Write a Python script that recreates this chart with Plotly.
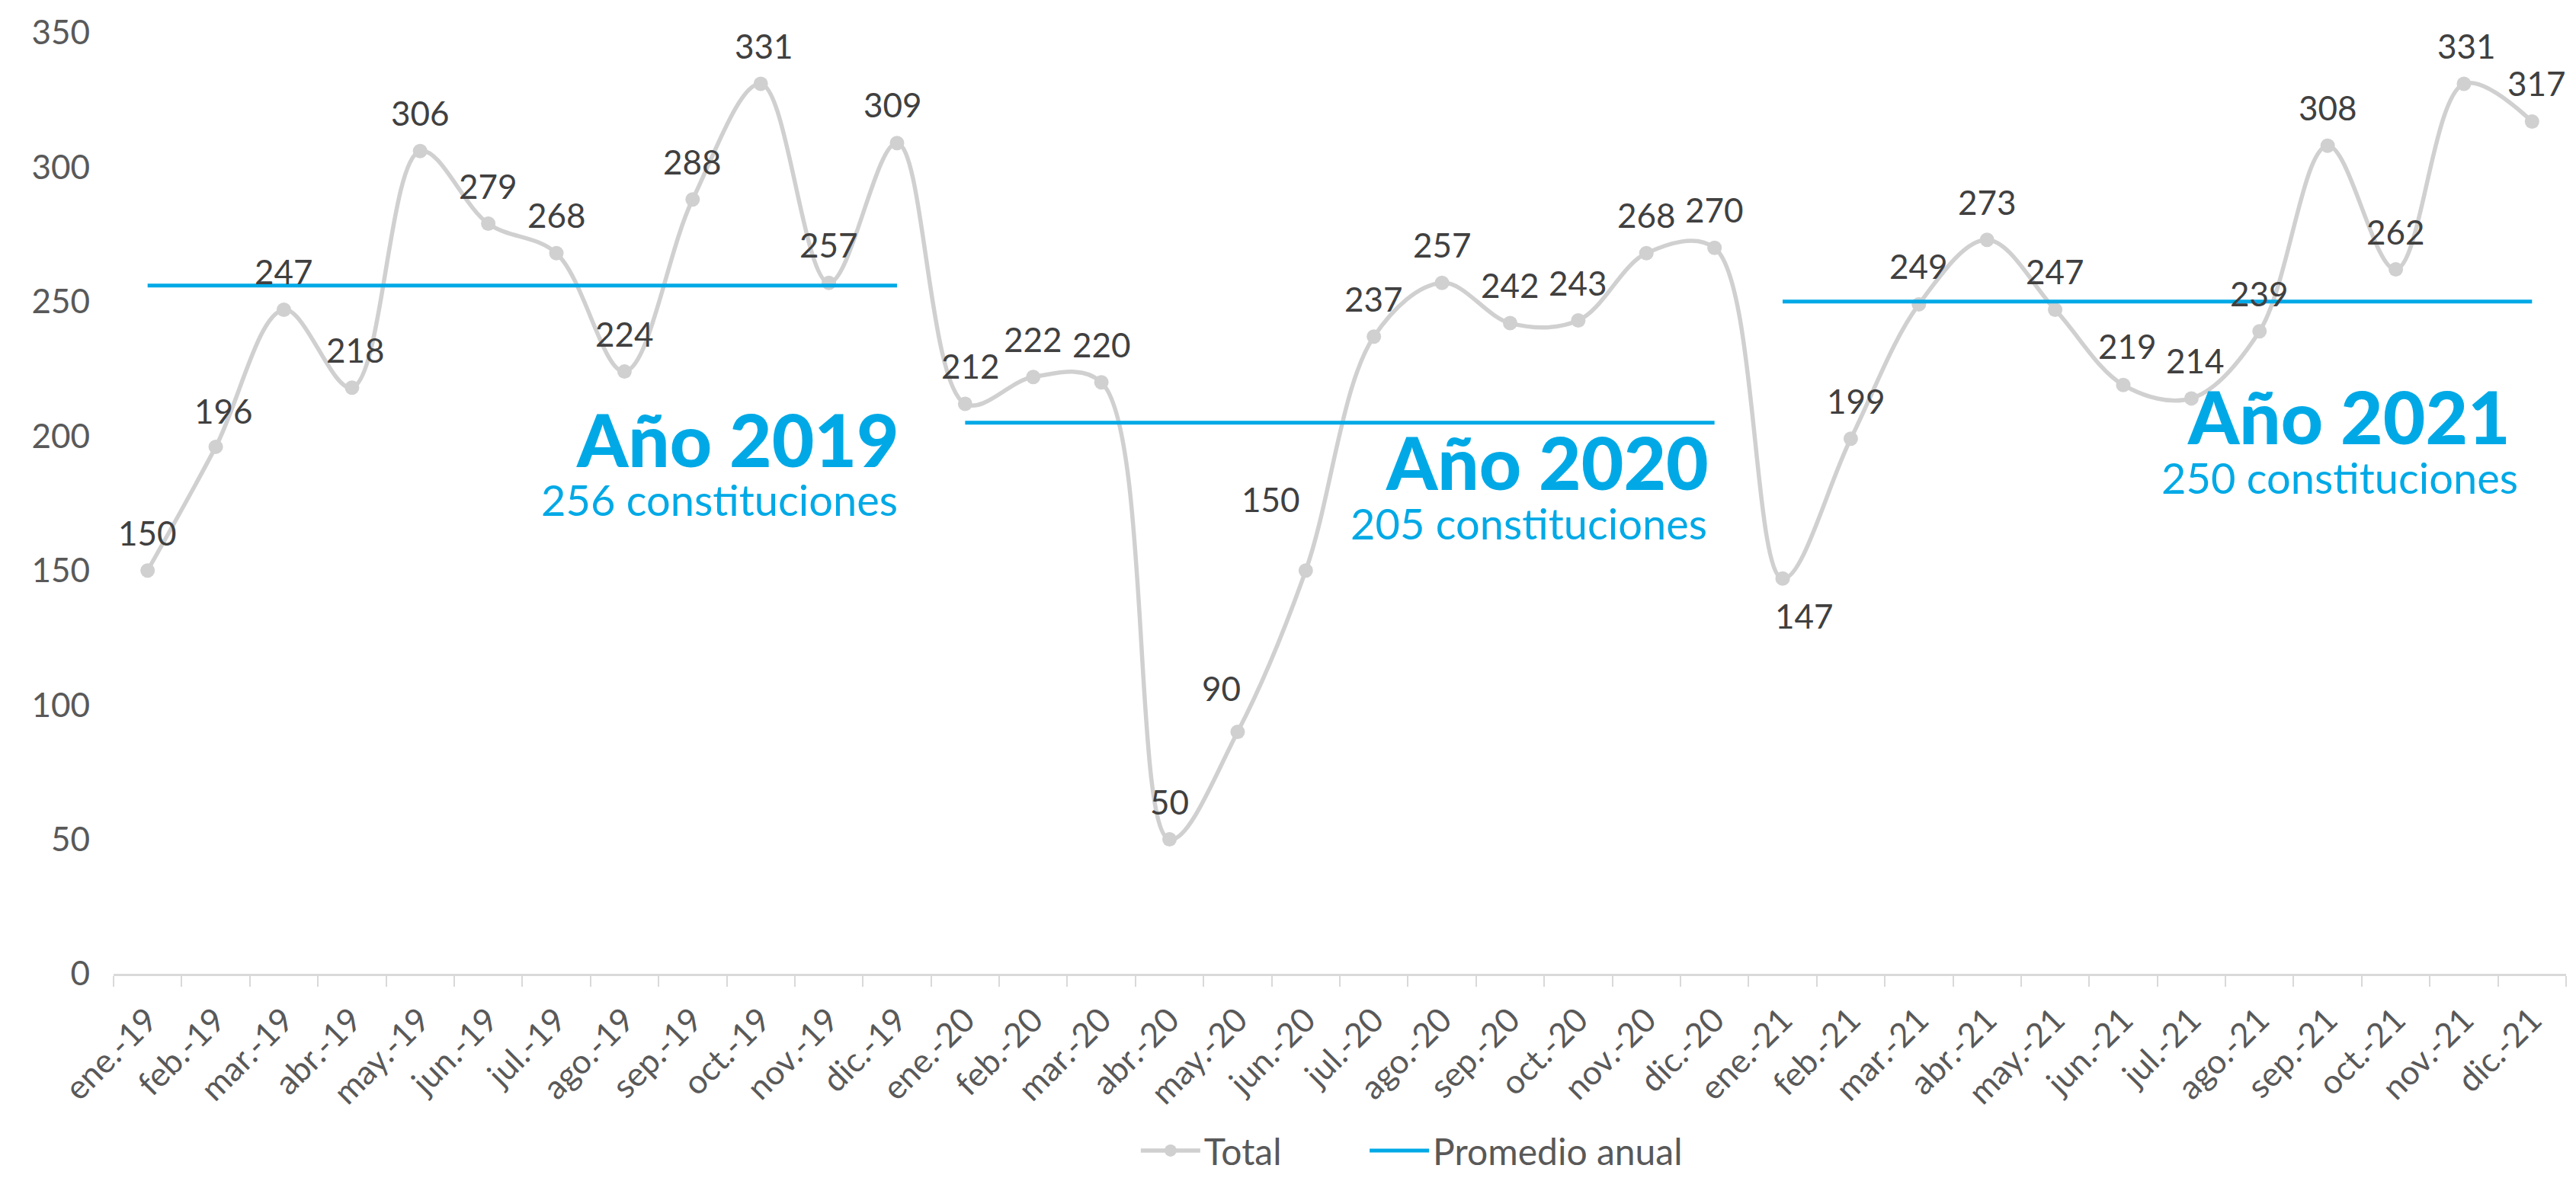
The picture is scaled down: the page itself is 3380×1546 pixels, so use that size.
import plotly.graph_objects as go

# ---------------- data ----------------
months = [
    "ene.-19", "feb.-19", "mar.-19", "abr.-19", "may.-19", "jun.-19",
    "jul.-19", "ago.-19", "sep.-19", "oct.-19", "nov.-19", "dic.-19",
    "ene.-20", "feb.-20", "mar.-20", "abr.-20", "may.-20", "jun.-20",
    "jul.-20", "ago.-20", "sep.-20", "oct.-20", "nov.-20", "dic.-20",
    "ene.-21", "feb.-21", "mar.-21", "abr.-21", "may.-21", "jun.-21",
    "jul.-21", "ago.-21", "sep.-21", "oct.-21", "nov.-21", "dic.-21",
]
total = [
    150, 196, 247, 218, 306, 279, 268, 224, 288, 331, 257, 309,
    212, 222, 220, 50, 90, 150, 237, 257, 242, 243, 268, 270,
    147, 199, 249, 273, 247, 219, 214, 239, 308, 262, 331, 317,
]
years = ["2019", "2020", "2021"]
year_avg = [256, 205, 250]
year_first = ["ene.-19", "ene.-20", "ene.-21"]
year_last = ["dic.-19", "dic.-20", "dic.-21"]

# ---------------- styles ----------------
GREY_LINE = "#D0D0D0"
BLUE = "#00A9E6"
LABEL_COLOR = "#404040"
TICK_COLOR = "#595959"
FONT = "Lato, 'Open Sans', sans-serif"

# label offsets in pixels (xshift, yshift); default is straight above
label_offsets = {
    "feb.-19": (10, 47), "abr.-19": (5, 50), "dic.-19": (-5, 51),
    "ene.-20": (7, 50), "may.-20": (-21, 57), "jun.-20": (-46, 94),
    "ene.-21": (28, -49), "feb.-21": (7, 50), "jun.-21": (6, 51),
    "jul.-21": (5, 50), "dic.-21": (6, 50), "oct.-19": (4, 50),
    "nov.-21": (4, 50),
}
# year text blocks: (y of title, y of subtitle, xshift title, xshift subtitle)
year_text_pos = [
    (199.0, 176.5, 5, 3),
    (190.5, 167.5, -6, -8),
    (207.5, 184.5, -26, -16),
]

fig = go.Figure()

fig.add_trace(go.Scatter(
    x=months, y=total, name="Total", mode="lines+markers",
    line=dict(color=GREY_LINE, width=5.5, shape="spline", smoothing=1.0),
    marker=dict(color=GREY_LINE, size=19), legend="legend",
))

avg_x, avg_y = [], []
for first, last, avg in zip(year_first, year_last, year_avg):
    avg_x += [first, last, last]
    avg_y += [avg, avg, None]
fig.add_trace(go.Scatter(
    x=avg_x, y=avg_y, name="Promedio anual", mode="lines",
    line=dict(color=BLUE, width=5), connectgaps=False, legend="legend2",
))

annotations = []
for m, v in zip(months, total):
    xs, ys = label_offsets.get(m, (0, 50))
    annotations.append(dict(
        x=m, y=v, text=str(v), showarrow=False, xshift=xs, yshift=ys,
        font=dict(family=FONT, size=44, color=LABEL_COLOR),
        xanchor="center", yanchor="middle",
    ))

for yr, avg, last, (yt, ysub, xst, xss) in zip(years, year_avg, year_last, year_text_pos):
    annotations.append(dict(
        x=last, y=yt, text=f"Año {yr}", showarrow=False, xanchor="right",
        yanchor="middle", xshift=xst,
        font=dict(family=FONT, size=96, color=BLUE, weight=900),
    ))
    annotations.append(dict(
        x=last, y=ysub, text=f"{avg} constituciones", showarrow=False,
        xanchor="right", yanchor="middle", xshift=xss,
        font=dict(family=FONT, size=56, color=BLUE),
    ))

legend_style = dict(
    orientation="h", y=-0.188, xanchor="left", yanchor="middle",
    font=dict(family=FONT, size=48, color=TICK_COLOR),
    itemwidth=78, bgcolor="rgba(0,0,0,0)",
)

# the page body has an 8px default margin, so the figure is sized to fit inside it
fig.update_layout(
    width=3364, height=1530,
    margin=dict(l=141, r=5, t=35, b=260, autoexpand=False),
    paper_bgcolor="white", plot_bgcolor="white",
    font=dict(family=FONT, color=TICK_COLOR, size=40),
    annotations=annotations,
    showlegend=True,
    legend=dict(x=0.4173, **legend_style),
    legend2=dict(x=0.5106, **legend_style),
    xaxis=dict(
        type="category", categoryorder="array", categoryarray=months,
        tickangle=-45, tickfont=dict(family=FONT, size=44, color=TICK_COLOR),
        showline=True, linecolor="#D9D9D9", linewidth=3,
        ticks="outside", ticklen=14, tickwidth=2, tickcolor="#D9D9D9",
        tickson="boundaries", showgrid=False, zeroline=False,
        range=[-0.5, len(months) - 0.5], automargin=False,
        ticklabelstandoff=14,
    ),
    yaxis=dict(
        range=[0, 350], dtick=50, tick0=0, showgrid=False, zeroline=False,
        showline=False, ticks="", ticklabelstandoff=30, automargin=False,
        tickfont=dict(family=FONT, size=44, color=TICK_COLOR),
    ),
)

fig.write_html("out.html")
